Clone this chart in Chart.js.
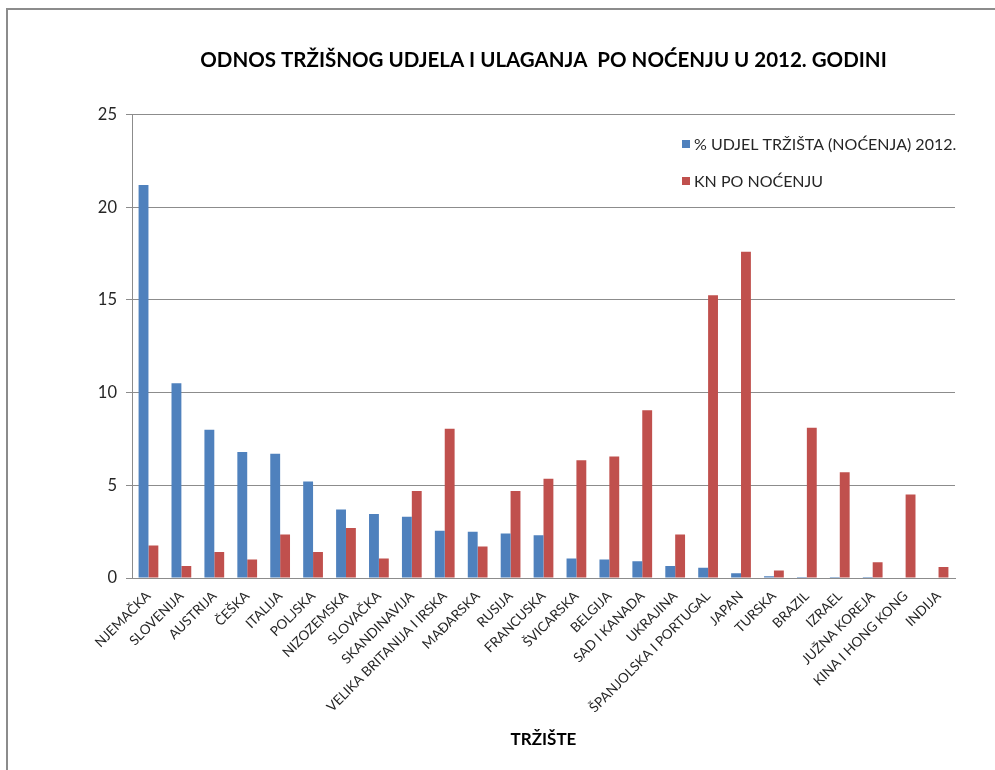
<!DOCTYPE html>
<html>
<head>
<meta charset="utf-8">
<script src="https://cdn.jsdelivr.net/npm/chart.js@4.4.1/dist/chart.umd.min.js"></script>
<style>
  html, body { margin: 0; padding: 0; background: #fff; }
  #wrap { position: relative; width: 995px; height: 770px; overflow: hidden; }
  #frame { position: absolute; left: 6px; top: 8px; width: 1200px; height: 1200px;
           border-top: 2px solid #8c8c8c; border-left: 2px solid #8c8c8c; }
  #myChart { position: absolute; left: 0; top: 0; }
</style>
</head>
<body>
<div id="wrap">
  <div id="frame"></div>
  <canvas id="myChart" width="995" height="770"></canvas>
</div>
<script>
var markets = ['NJEMAČKA', 'SLOVENIJA', 'AUSTRIJA', 'ČEŠKA', 'ITALIJA', 'POLJSKA',
    'NIZOZEMSKA', 'SLOVAČKA', 'SKANDINAVIJA', 'VELIKA BRITANIJA I IRSKA', 'MAĐARSKA',
    'RUSIJA', 'FRANCUSKA', 'ŠVICARSKA', 'BELGIJA', 'SAD I KANADA', 'UKRAJINA',
    'ŠPANJOLSKA I PORTUGAL', 'JAPAN', 'TURSKA', 'BRAZIL', 'IZRAEL', 'JUŽNA KOREJA',
    'KINA I HONG KONG', 'INDIJA'];
var udjel = [21.2, 10.5, 8.0, 6.8, 6.7, 5.2, 3.7, 3.45, 3.3, 2.55, 2.5, 2.4, 2.3,
    1.05, 1.0, 0.9, 0.65, 0.55, 0.25, 0.1, 0.05, 0.05, 0.05, 0, 0];
var knPoNocenju = [1.75, 0.65, 1.4, 1.0, 2.35, 1.4, 2.7, 1.05, 4.7, 8.05, 1.7, 4.7,
    5.35, 6.35, 6.55, 9.05, 2.35, 15.25, 17.6, 0.4, 8.1, 5.7, 0.85, 4.5, 0.6];
var yTicks = [0, 5, 10, 15, 20, 25];

var fontFam = 'Lato, "Open Sans", sans-serif';
var gridGray = '#8c8c8c';

// legend drawn inside the plot area, top right
var innerLegend = {
    id: 'innerLegend',
    afterDraw: function (chart) {
        var ctx = chart.ctx;
        var x = 682, y = 144;
        ctx.save();
        ctx.font = '16px ' + fontFam;
        ctx.textBaseline = 'middle';
        chart.data.datasets.forEach(function (ds, i) {
            var yy = y + i * 37;
            ctx.fillStyle = ds.backgroundColor;
            ctx.fillRect(x, yy - 4, 8, 8);
            ctx.fillStyle = '#262626';
            ctx.fillText(ds.label, x + 12, yy + 1);
        });
        ctx.restore();
    }
};

var ctx = document.getElementById('myChart').getContext('2d');
var myChart = new Chart(ctx, {
    type: 'bar',
    data: {
        labels: markets,
        datasets: [{
            label: '% UDJEL TRŽIŠTA (NOĆENJA) 2012.',
            data: udjel,
            backgroundColor: '#4F81BD'
        }, {
            label: 'KN PO NOĆENJU',
            data: knPoNocenju,
            backgroundColor: '#C0504D'
        }]
    },
    options: {
        responsive: false,
        animation: false,
        layout: { padding: { left: 0, right: 40, top: 0, bottom: 16 } },
        datasets: { bar: { categoryPercentage: 0.6, barPercentage: 1.0 } },
        plugins: {
            legend: { display: false },
            tooltip: { enabled: false },
            title: {
                display: true,
                fullSize: false,
                text: 'ODNOS TRŽIŠNOG UDJELA I ULAGANJA  PO NOĆENJU U 2012. GODINI',
                color: '#000',
                font: { family: fontFam, size: 20.5, weight: 'bold' },
                padding: { top: 48, bottom: 42 }
            }
        },
        scales: {
            x: {
                grid: { display: false, drawTicks: false },
                border: { display: true, color: gridGray, width: 1 },
                ticks: {
                    autoSkip: false, minRotation: 45, maxRotation: 45,
                    color: '#262626', padding: 10,
                    font: { family: fontFam, size: 13.5 }
                },
                title: {
                    display: true, text: 'TRŽIŠTE', color: '#000',
                    font: { family: fontFam, size: 17, weight: 'bold' },
                    padding: { top: 0, bottom: 4 }
                },
                afterFit: function (s) { s.height = 176; }
            },
            y: {
                min: 0, max: 25,
                afterBuildTicks: function (s) {
                    s.ticks = yTicks.map(function (v) { return { value: v }; });
                },
                grid: { color: gridGray, lineWidth: 1, tickLength: 6 },
                border: { display: true, color: gridGray },
                ticks: {
                    color: '#262626', padding: 9,
                    font: { family: fontFam, size: 16.5 }
                },
                afterFit: function (s) { s.width = 132; }
            }
        }
    },
    plugins: [innerLegend]
});
</script>
</body>
</html>
